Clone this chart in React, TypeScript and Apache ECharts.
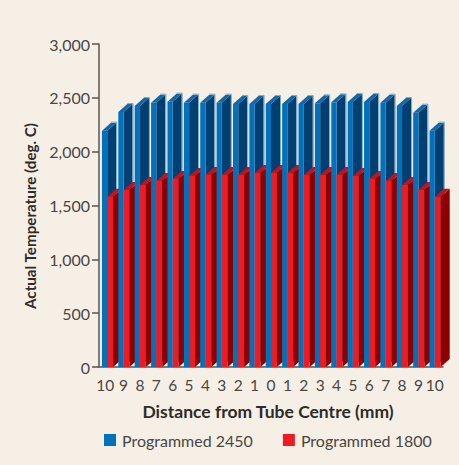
import React, { useEffect, useRef } from "react";
import * as echarts from "echarts";

const categories = ["10","9","8","7","6","5","4","3","2","1","0","1","2","3","4","5","6","7","8","9","10"];
const programmed2450 = [2195,2368,2424,2455,2464,2455,2455,2455,2443,2443,2443,2443,2443,2449,2458,2461,2461,2455,2424,2362,2195];
const programmed1800 = [1582,1644,1690,1727,1746,1774,1783,1783,1783,1802,1802,1802,1783,1783,1783,1774,1746,1727,1690,1644,1582];
const yTicks = [0, 500, 1000, 1500, 2000, 2500, 3000];

const FONT = "Lato, sans-serif";
const BG = "#F5EFE6";
const AXIS = "#5A5550";
const TEXT = "#4A4644";

function bar(
  front: string, side: string, top: string, edge: string | null,
  offsetL: number, offsetR: number, zBase: number
) {
  return (params: any, api: any) => {
    const i = api.value(0);
    const v = api.value(1);
    const band = api.size([1, 0])[0];
    const [cx, yTop] = api.coord([i, v]);
    const [, y0] = api.coord([i, 0]);
    const x0 = cx + offsetL * band;
    const x1 = cx + offsetR * band;
    const dx = 0.55 * band;
    const dy = 8;
    const z2 = i * 10 + zBase;
    const children: any[] = [
      { type: "polygon", z2, shape: { points: [[x1, yTop], [x1 + dx, yTop - dy], [x1 + dx, y0 - dy], [x1, y0]] }, style: { fill: side } },
      { type: "polygon", z2: z2 + 1, shape: { points: [[x0, yTop], [x1, yTop], [x1 + dx, yTop - dy], [x0 + dx, yTop - dy]] }, style: { fill: top } },
      { type: "rect", z2: z2 + 2, shape: { x: x0, y: yTop, width: x1 - x0, height: y0 - yTop }, style: { fill: front } },
    ];
    if (edge) {
      children.push({
        type: "polyline", z2: z2 + 1,
        shape: { points: [[x0 + dx, yTop - dy - 0.5], [x1 + dx + 0.5, yTop - dy - 0.5], [x1 + dx + 0.5, y0 - dy]] },
        style: { stroke: edge, lineWidth: 1, fill: "none" },
      });
    }
    return { type: "group", children };
  };
}

export default function App() {
  const ref = useRef<HTMLDivElement>(null);
  useEffect(() => {
    document.body.style.margin = "0";
    document.body.style.background = BG;
    const chart = echarts.init(ref.current!, undefined, { renderer: "svg" });
    chart.setOption({
      animation: false,
      backgroundColor: BG,
      textStyle: { fontFamily: FONT },
      grid: { left: 99, top: 44, width: 344, height: 323, containLabel: false },
      legend: {
        left: 104, top: 432, padding: 0, itemWidth: 12, itemHeight: 12, itemGap: 30, icon: "rect",
        textStyle: { fontFamily: FONT, fontSize: 16, color: TEXT, padding: [0, 0, 0, 1] },
        data: ["Programmed 2450", "Programmed 1800"],
      },
      xAxis: {
        type: "category", data: categories, boundaryGap: true,
        name: "Distance from Tube Centre (mm)", nameLocation: "middle", nameGap: 35,
        nameTextStyle: { fontFamily: FONT, fontWeight: "bold", fontSize: 17.5, color: "#2E2B2A", padding: [0, 6, 0, 0] },
        axisLine: { lineStyle: { color: AXIS, width: 1.5 } },
        axisTick: { length: 7, alignWithLabel: false, lineStyle: { color: AXIS, width: 1.5 } },
        axisLabel: {
          interval: 0, margin: 10, fontFamily: FONT, fontSize: 15.5, color: TEXT,
          formatter: (v: string, i: number) => (i === 0 ? `{first|${v}}` : v),
          rich: { first: { fontFamily: FONT, fontSize: 15.5, color: TEXT, padding: [0, 4, 0, 0] } },
        },
        splitLine: { show: false },
      },
      yAxis: {
        type: "value", min: 0, max: yTicks[yTicks.length - 1], interval: 500,
        axisLine: { show: true, lineStyle: { color: AXIS, width: 1.5 } },
        axisTick: { show: true, length: 7, lineStyle: { color: AXIS, width: 1.5 } },
        axisLabel: {
          margin: 9, fontFamily: FONT, fontSize: 16, color: TEXT,
          formatter: (v: number) => v.toLocaleString("en-US"),
        },
        splitLine: { show: false },
      },
      graphic: [{
        type: "text", x: 30, y: 216, rotation: Math.PI / 2,
        style: {
          text: "Actual Temperature (deg. C)", fontFamily: FONT, fontWeight: "bold", fontSize: 15.2,
          fill: "#2E2B2A", align: "center", verticalAlign: "middle",
        },
      }],
      series: [
        {
          type: "custom", name: "Programmed 2450", clip: false, itemStyle: { color: "#0072BC" },
          encode: { x: 0, y: 1 },
          renderItem: bar("#0072BC", "#003F72", "#1467A6", "#7FA6C0", -0.32, 0, 0),
          data: programmed2450.map((v, i) => [i, v]),
        },
        {
          type: "custom", name: "Programmed 1800", clip: false, itemStyle: { color: "#ED1C24" },
          encode: { x: 0, y: 1 },
          renderItem: bar("#ED1C24", "#8B0000", "#BE1420", null, 0, 0.36, 5),
          data: programmed1800.map((v, i) => [i, v]),
        },
      ],
    });
    return () => chart.dispose();
  }, []);
  return <div ref={ref} style={{ width: 459, height: 465 }} />;
}
